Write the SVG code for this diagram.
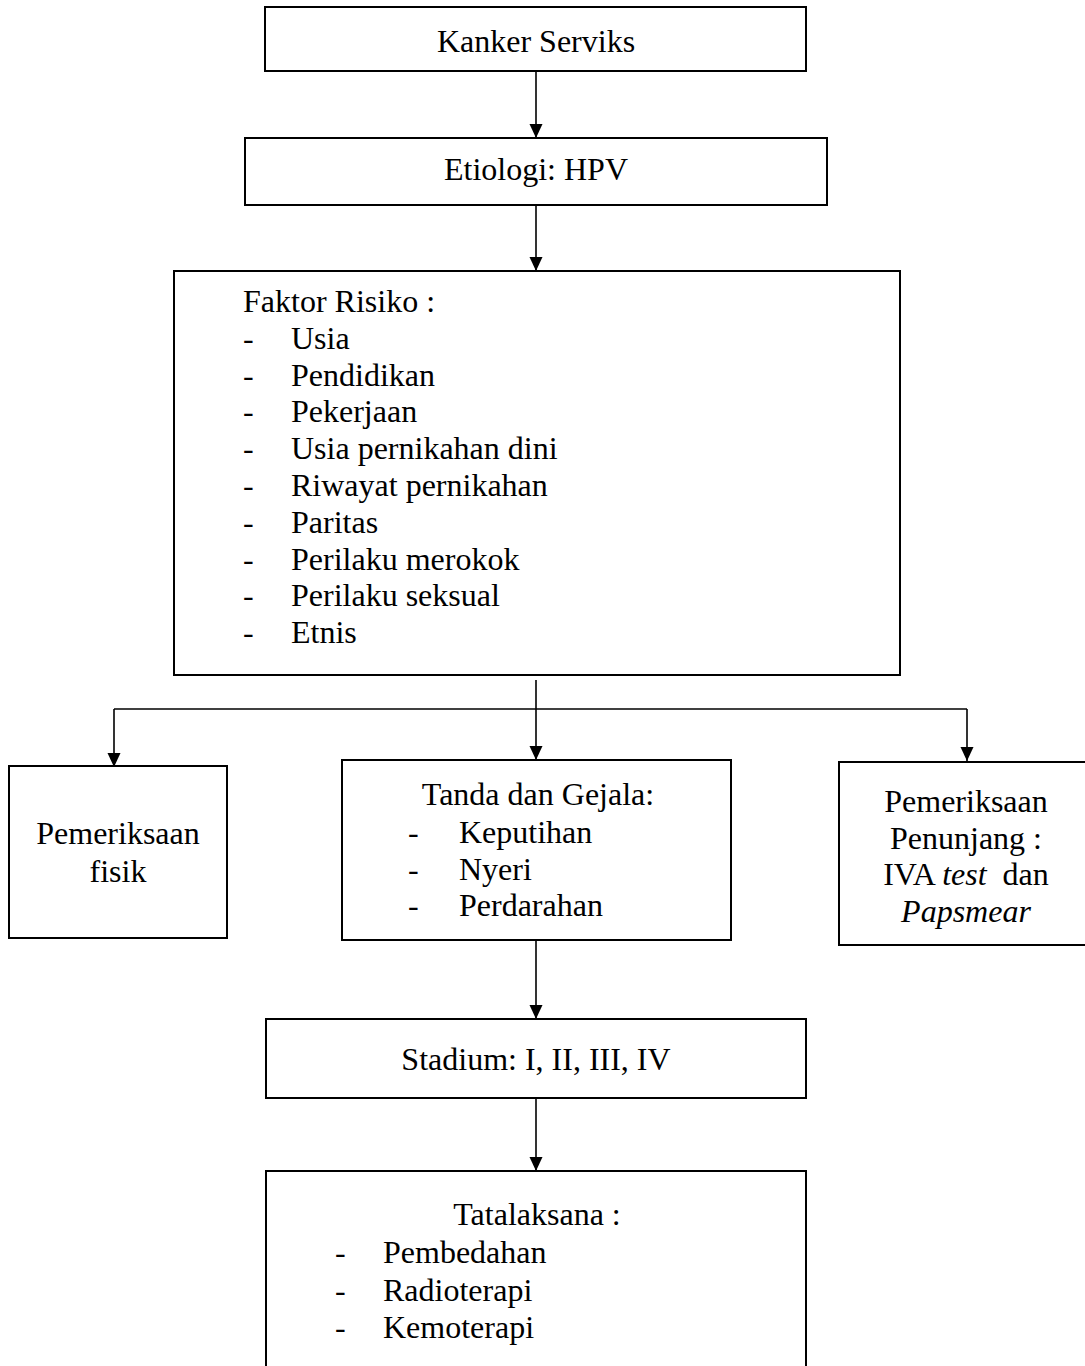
<svg xmlns="http://www.w3.org/2000/svg" width="1085" height="1366" viewBox="0 0 1085 1366">
<style>
  .box { fill: #fff; stroke: #000; stroke-width: 2; }
  .t { font-family: "Liberation Serif", "Times New Roman", serif; font-size: 32px; fill: #000; white-space: pre; }
  .c { text-anchor: middle; }
  .conn { stroke: #000; stroke-width: 1.6; fill: none; }
  .i { font-style: italic; }
</style>
<defs>
  <marker id="arr" markerUnits="userSpaceOnUse" markerWidth="14" markerHeight="15" refX="7" refY="14" orient="auto-start-reverse" viewBox="0 0 14 15">
    <path d="M0,0 L14,0 L7,14 Z" fill="#000" transform="rotate(0)"/>
  </marker>
</defs>
<rect width="1085" height="1366" fill="#fff"/>

<g id="connectors">
  <path class="conn" d="M536,71 V138"/>
  <path d="M529.5,124 L542.5,124 L536,138 Z" fill="#000"/>
  <path class="conn" d="M536,205 V271"/>
  <path d="M529.5,257 L542.5,257 L536,271 Z" fill="#000"/>
  <path class="conn" d="M536,680 V760"/>
  <path d="M529.5,746 L542.5,746 L536,760 Z" fill="#000"/>
  <path class="conn" d="M114,709 H967"/>
  <path class="conn" d="M114,709 V767"/>
  <path d="M107.5,753 L120.5,753 L114,767 Z" fill="#000"/>
  <path class="conn" d="M967,709 V761"/>
  <path d="M960.5,747 L973.5,747 L967,761 Z" fill="#000"/>
  <path class="conn" d="M536,940 V1019"/>
  <path d="M529.5,1005 L542.5,1005 L536,1019 Z" fill="#000"/>
  <path class="conn" d="M536,1098 V1171"/>
  <path d="M529.5,1157 L542.5,1157 L536,1171 Z" fill="#000"/>
</g>

<g id="kanker-serviks">
  <rect class="box" x="265" y="7" width="541" height="64"/>
  <text class="t c" x="536" y="52">Kanker Serviks</text>
</g>

<g id="etiologi">
  <rect class="box" x="245" y="138" width="582" height="67"/>
  <text class="t c" x="536" y="180">Etiologi: HPV</text>
</g>

<g id="faktor-risiko">
  <rect class="box" x="174" y="271" width="726" height="404"/>
  <text class="t" x="243" y="312">Faktor Risiko :</text>
  <text class="t" x="243" y="348.8">-</text><text class="t" x="291" y="348.8">Usia</text>
  <text class="t" x="243" y="385.6">-</text><text class="t" x="291" y="385.6">Pendidikan</text>
  <text class="t" x="243" y="422.4">-</text><text class="t" x="291" y="422.4">Pekerjaan</text>
  <text class="t" x="243" y="459.2">-</text><text class="t" x="291" y="459.2">Usia pernikahan dini</text>
  <text class="t" x="243" y="496">-</text><text class="t" x="291" y="496">Riwayat pernikahan</text>
  <text class="t" x="243" y="532.8">-</text><text class="t" x="291" y="532.8">Paritas</text>
  <text class="t" x="243" y="569.6">-</text><text class="t" x="291" y="569.6">Perilaku merokok</text>
  <text class="t" x="243" y="606.4">-</text><text class="t" x="291" y="606.4">Perilaku seksual</text>
  <text class="t" x="243" y="643.2">-</text><text class="t" x="291" y="643.2">Etnis</text>
</g>

<g id="pemeriksaan-fisik">
  <rect class="box" x="9" y="766" width="218" height="172"/>
  <text class="t c" x="118" y="844">Pemeriksaan</text>
  <text class="t c" x="118" y="882">fisik</text>
</g>

<g id="tanda-gejala">
  <rect class="box" x="342" y="760" width="389" height="180"/>
  <text class="t c" x="538" y="805">Tanda dan Gejala:</text>
  <text class="t" x="408" y="842.5">-</text><text class="t" x="459" y="842.5">Keputihan</text>
  <text class="t" x="408" y="879.5">-</text><text class="t" x="459" y="879.5">Nyeri</text>
  <text class="t" x="408" y="916">-</text><text class="t" x="459" y="916">Perdarahan</text>
</g>

<g id="pemeriksaan-penunjang">
  <rect class="box" x="839" y="762" width="260" height="183"/>
  <text class="t c" x="966" y="812">Pemeriksaan</text>
  <text class="t c" x="966" y="849">Penunjang :</text>
  <text class="t c" x="966" y="885">IVA <tspan class="i">test</tspan>  dan</text>
  <text class="t c i" x="966" y="922">Papsmear</text>
</g>

<g id="stadium">
  <rect class="box" x="266" y="1019" width="540" height="79"/>
  <text class="t c" x="536" y="1070">Stadium: I, II, III, IV</text>
</g>

<g id="tatalaksana">
  <rect class="box" x="266" y="1171" width="540" height="210"/>
  <text class="t c" x="537" y="1225">Tatalaksana :</text>
  <text class="t" x="335" y="1263">-</text><text class="t" x="383" y="1263">Pembedahan</text>
  <text class="t" x="335" y="1300.5">-</text><text class="t" x="383" y="1300.5">Radioterapi</text>
  <text class="t" x="335" y="1338">-</text><text class="t" x="383" y="1338">Kemoterapi</text>
</g>
</svg>
